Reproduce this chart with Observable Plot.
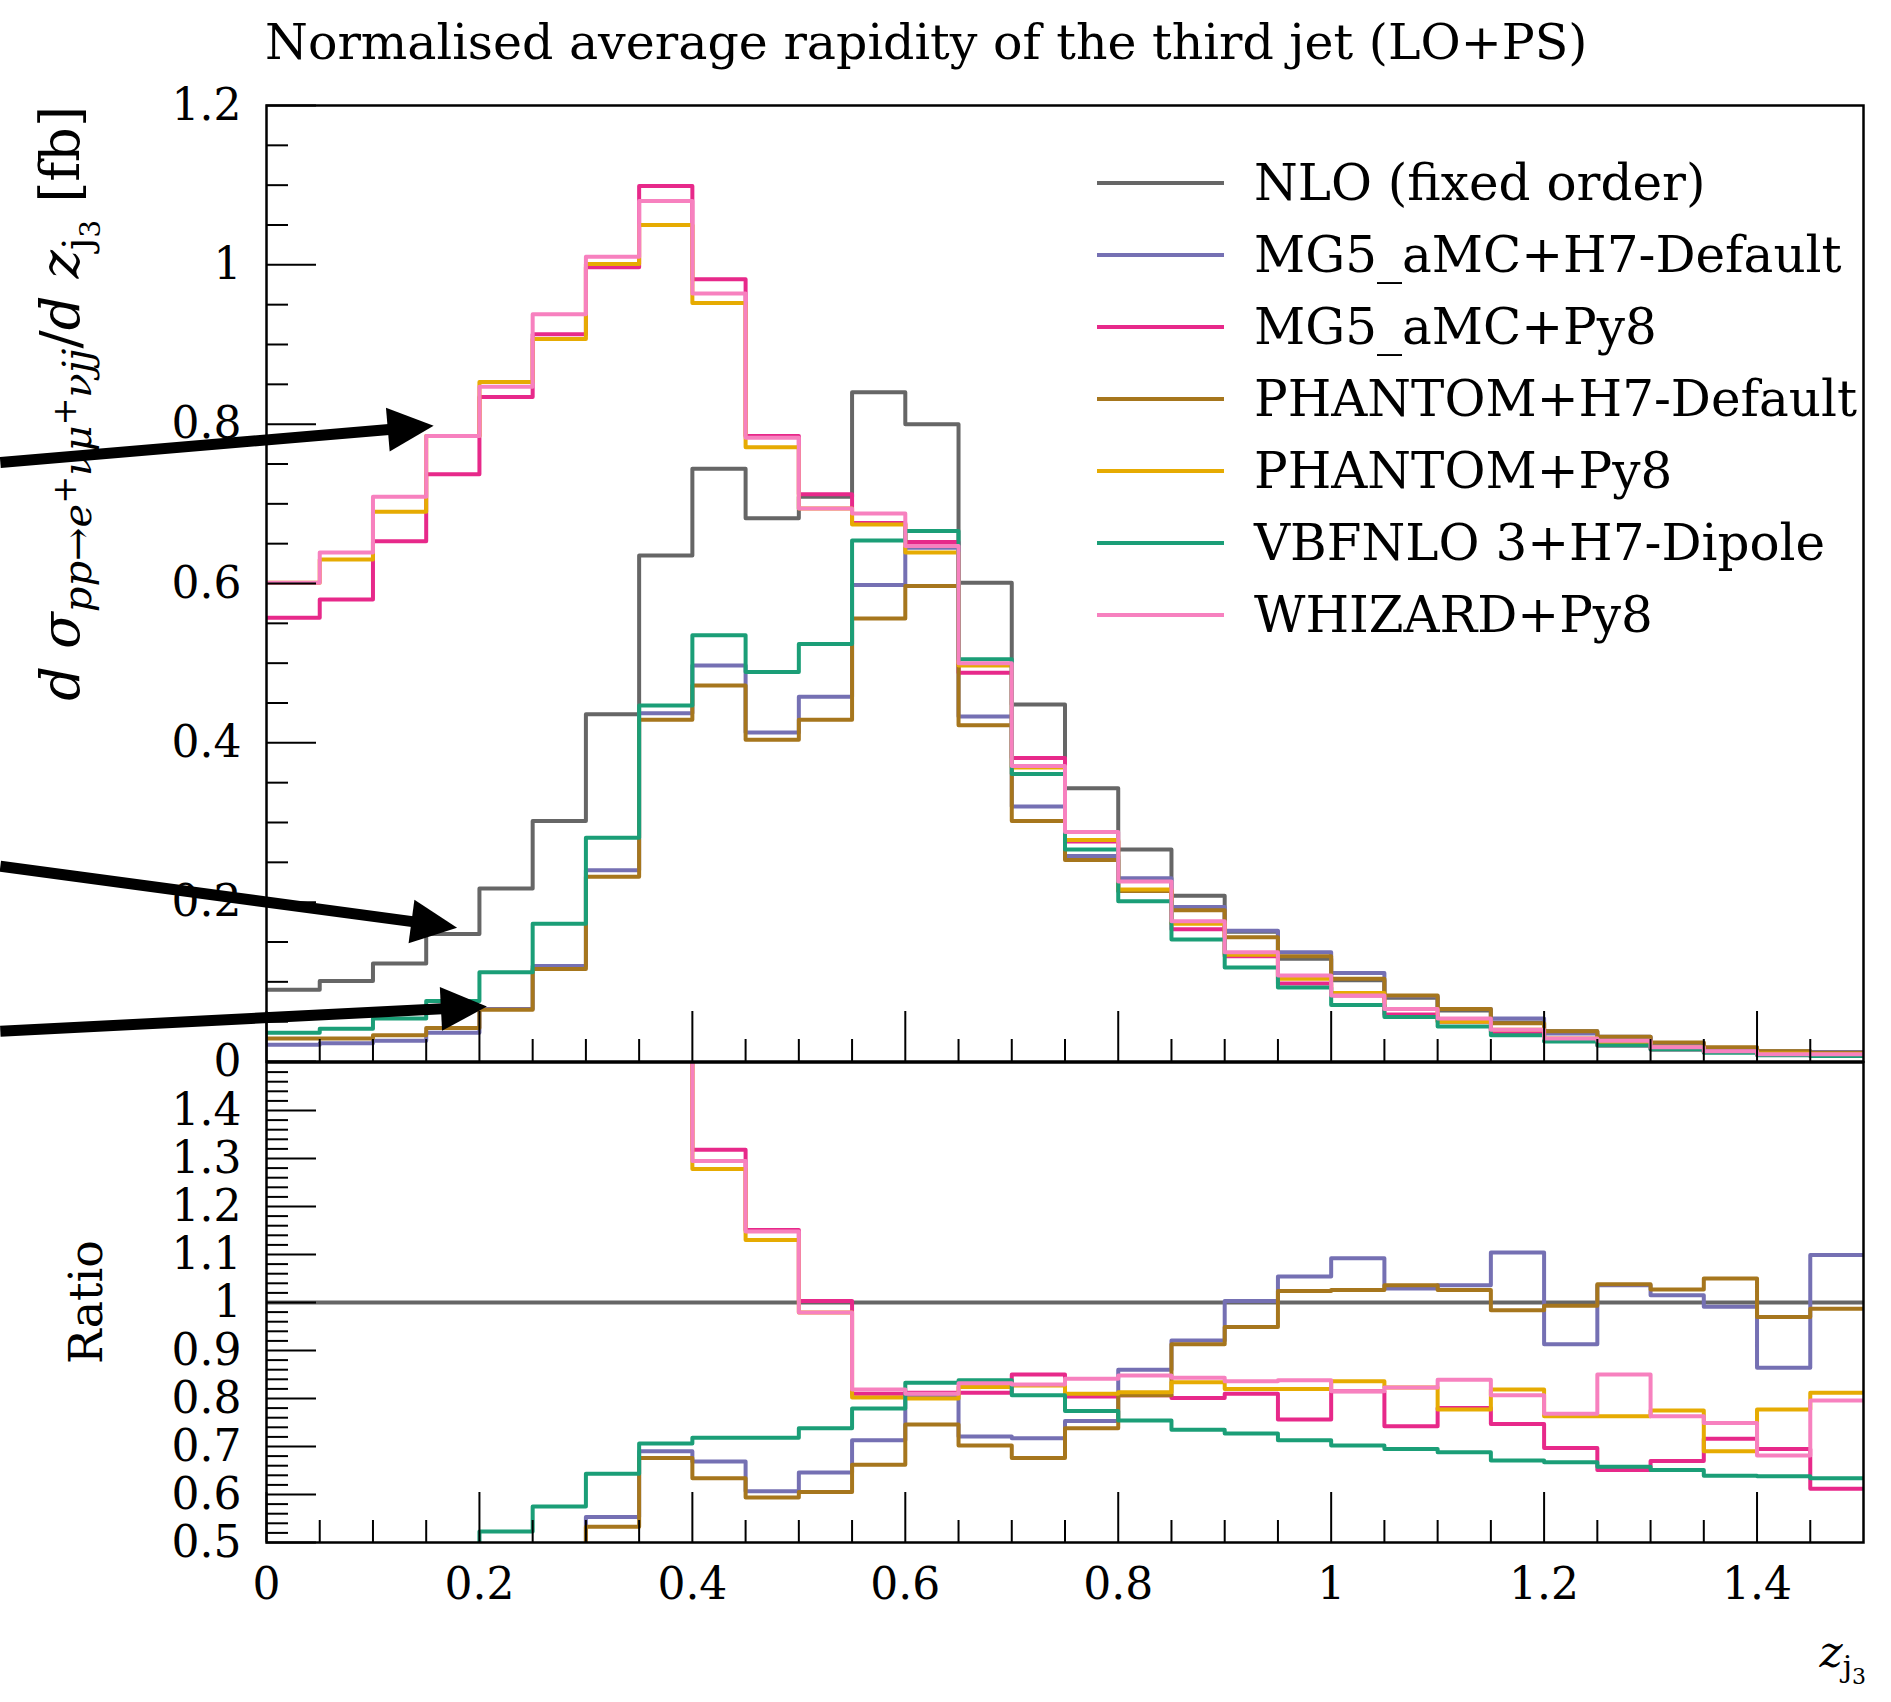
<!DOCTYPE html>
<html><head><meta charset="utf-8">
<script src="https://cdn.jsdelivr.net/npm/d3@7"></script>
<script src="https://cdn.jsdelivr.net/npm/@observablehq/plot@0.6"></script>
<style>
body{margin:0;background:#fff;}
#wrap{position:relative;width:1891px;height:1702px;font-family:"DejaVu Serif",serif;color:#000;overflow:hidden;}
#wrap svg{position:absolute;left:0;top:0;}
.abs{position:absolute;white-space:nowrap;}
</style></head><body><div id="wrap"></div>
<script>
// ---------- data ----------
const binEdges = [0,0.05,0.1,0.15,0.2,0.25,0.3,0.35,0.4,0.45,0.5,0.55,0.6,0.65,0.7,0.75,0.8,0.85,0.9,0.95,1.0,1.05,1.1,1.15,1.2,1.25,1.3,1.35,1.4,1.45,1.5];
const seriesNames = ["NLO (fixed order)","MG5_aMC+H7-Default","MG5_aMC+Py8","PHANTOM+H7-Default","PHANTOM+Py8","VBFNLO 3+H7-Dipole","WHIZARD+Py8"];
const seriesColors = ["#666666","#7570b3","#e7298a","#a6761d","#e6ab02","#1b9e77","#f781bf"];

const nloValues      = [0.090,0.101,0.123,0.160,0.217,0.302,0.436,0.635,0.744,0.682,0.709,0.840,0.800,0.601,0.448,0.343,0.266,0.208,0.163,0.129,0.102,0.080,0.064,0.049,0.038,0.030,0.023,0.017,0.013,0.011];
const mgH7Values     = [0.021,0.023,0.026,0.036,0.066,0.120,0.240,0.437,0.497,0.413,0.458,0.598,0.645,0.433,0.320,0.258,0.230,0.194,0.164,0.137,0.111,0.082,0.066,0.054,0.035,0.031,0.023,0.017,0.011,0.012];
const mgPy8Values    = [0.557,0.580,0.653,0.737,0.834,0.913,0.997,1.099,0.982,0.785,0.712,0.676,0.652,0.488,0.381,0.276,0.214,0.166,0.132,0.098,0.083,0.059,0.050,0.037,0.026,0.020,0.015,0.012,0.009,0.007];
const phH7Values     = [0.029,0.029,0.033,0.042,0.065,0.116,0.232,0.429,0.472,0.404,0.429,0.556,0.597,0.422,0.302,0.253,0.214,0.190,0.156,0.132,0.104,0.083,0.066,0.048,0.038,0.031,0.024,0.018,0.013,0.011];
const phPy8Values    = [0.601,0.630,0.690,0.785,0.853,0.907,1.001,1.050,0.952,0.771,0.694,0.674,0.639,0.497,0.369,0.278,0.216,0.173,0.134,0.104,0.086,0.066,0.050,0.040,0.029,0.023,0.018,0.012,0.010,0.009];
const vbfH7Values    = [0.036,0.041,0.054,0.076,0.112,0.173,0.281,0.447,0.535,0.489,0.524,0.654,0.666,0.505,0.361,0.266,0.201,0.153,0.118,0.093,0.071,0.056,0.044,0.033,0.025,0.020,0.015,0.011,0.008,0.007];
const whizPy8Values  = [0.601,0.639,0.709,0.785,0.847,0.938,1.010,1.080,0.964,0.783,0.694,0.688,0.647,0.500,0.371,0.288,0.226,0.176,0.137,0.108,0.083,0.066,0.054,0.040,0.029,0.026,0.018,0.013,0.009,0.009];

const nloRatio     = [1,1,1,1,1,1,1,1,1,1,1,1,1,1,1,1,1,1,1,1,1,1,1,1,1,1,1,1,1,1];
const mgH7Ratio    = [0.23,0.23,0.21,0.23,0.30,0.40,0.553,0.690,0.669,0.607,0.646,0.713,0.806,0.721,0.717,0.753,0.860,0.921,1.003,1.054,1.092,1.029,1.036,1.104,0.913,1.036,1.015,0.991,0.864,1.099];
const mgPy8Ratio   = [6.2,5.7,5.3,4.6,3.8,3.0,2.3,1.73,1.318,1.151,1.003,0.810,0.812,0.812,0.850,0.804,0.807,0.801,0.810,0.756,0.815,0.742,0.780,0.747,0.697,0.651,0.670,0.716,0.695,0.612];
const phH7Ratio    = [0.32,0.29,0.27,0.26,0.30,0.38,0.533,0.676,0.634,0.594,0.605,0.662,0.746,0.702,0.676,0.738,0.807,0.913,0.949,1.024,1.026,1.036,1.026,0.984,0.993,1.038,1.027,1.050,0.970,0.987];
const phPy8Ratio   = [6.7,6.2,5.6,4.9,3.9,3.0,2.3,1.65,1.278,1.130,0.979,0.802,0.800,0.824,0.827,0.810,0.813,0.834,0.820,0.820,0.836,0.823,0.777,0.819,0.763,0.763,0.775,0.690,0.777,0.812];
const vbfH7Ratio   = [0.40,0.41,0.44,0.475,0.523,0.575,0.643,0.706,0.718,0.718,0.738,0.779,0.833,0.838,0.807,0.774,0.754,0.735,0.727,0.713,0.702,0.695,0.688,0.671,0.667,0.658,0.651,0.639,0.638,0.634];
const whizPy8Ratio = [6.7,6.3,5.8,4.9,3.9,3.1,2.3,1.70,1.295,1.148,0.979,0.819,0.810,0.832,0.829,0.841,0.848,0.843,0.836,0.838,0.815,0.823,0.839,0.807,0.768,0.850,0.763,0.749,0.681,0.796];

const xMajorTicks = [0,0.2,0.4,0.6,0.8,1.0,1.2,1.4];
const xMinorTicks = [0.05,0.1,0.15,0.25,0.3,0.35,0.45,0.5,0.55,0.65,0.7,0.75,0.85,0.9,0.95,1.05,1.1,1.15,1.25,1.3,1.35,1.45];
const mainYMajor = [0,0.2,0.4,0.6,0.8,1.0,1.2];
const mainYMinor = [0.05,0.1,0.15,0.25,0.3,0.35,0.45,0.5,0.55,0.65,0.7,0.75,0.85,0.9,0.95,1.05,1.1,1.15];
const ratioYMajor = [0.5,0.6,0.7,0.8,0.9,1.0,1.1,1.2,1.3,1.4];
const ratioYMinor = [0.52,0.54,0.56,0.58,0.62,0.64,0.66,0.68,0.72,0.74,0.76,0.78,0.82,0.84,0.86,0.88,0.92,0.94,0.96,0.98,1.02,1.04,1.06,1.08,1.12,1.14,1.16,1.18,1.22,1.24,1.26,1.28,1.32,1.34,1.36,1.38,1.42,1.44,1.46,1.48];

// annotation arrows (chart units): start and tip
const arrowX1 = [-0.25,-0.25,-0.25];
const arrowY1 = [0.752,0.245,0.038];
const arrowX2 = [0.157,0.179,0.207];
const arrowY2 = [0.798,0.168,0.069];

// ---------- layout ----------
const W = 1891, H = 1702;
const L = 266, R = 1863;
const mainTop = 105, mainBottom = 1061;
const ratioTop = 1062, ratioBottom = 1542;
const plotW = R - L;
const FONT = "DejaVu Serif";
const FS = 44;
const LW = 4;

const mainSeries = [nloValues,mgH7Values,mgPy8Values,phH7Values,phPy8Values,vbfH7Values,whizPy8Values];
const ratioSeries = [nloRatio,mgH7Ratio,mgPy8Ratio,phH7Ratio,phPy8Ratio,vbfH7Ratio,whizPy8Ratio];

function steps(vals) {
  return binEdges.map((e, i) => ({x: e, y: vals[Math.min(i, vals.length - 1)]}));
}
const fmt = d => d3.format("~g")(d);

function tickMarks(plotH, yMajor, yMinor) {
  return [
    Plot.tickY(yMinor, {y: d => d, insetRight: plotW - 22, stroke: "#000", strokeWidth: 2}),
    Plot.tickY(yMajor, {y: d => d, insetRight: plotW - 50, stroke: "#000", strokeWidth: 2}),
    Plot.tickX(xMinorTicks, {x: d => d, insetTop: plotH - 22, stroke: "#000", strokeWidth: 2}),
    Plot.tickX(xMajorTicks, {x: d => d, insetTop: plotH - 50, stroke: "#000", strokeWidth: 2})
  ];
}

// arrow heads
const kx = plotW / 1.5, ky = (mainBottom - mainTop) / 1.2;
function headSymbol(theta) {
  const c = Math.cos(theta), s = Math.sin(theta);
  const len = 46, hw = 22;
  return {draw(ctx) {
    ctx.moveTo(0, 0);
    ctx.lineTo(-len * c - hw * s, -len * s + hw * c);
    ctx.lineTo(-len * c + hw * s, -len * s - hw * c);
    ctx.closePath();
  }};
}
const arrowData = arrowX1.map((x1, i) => ({x1, y1: arrowY1[i], x2: arrowX2[i], y2: arrowY2[i]}));
const arrowHeads = arrowData.map(d => {
  const th = Math.atan2(-(d.y2 - d.y1) * ky, (d.x2 - d.x1) * kx);
  return Plot.dot([d], {x: "x2", y: "y2", symbol: headSymbol(th), r: 10, fill: "#000", stroke: "none"});
});

const wrap = document.getElementById("wrap");

const main = Plot.plot({
  width: W, height: H,
  marginLeft: L, marginRight: W - R, marginTop: mainTop, marginBottom: H - mainBottom,
  x: {domain: [0, 1.5], axis: null},
  y: {domain: [0, 1.2]},
  style: {background: "transparent", fontFamily: FONT, fontSize: FS + "px", overflow: "visible"},
  marks: [
    ...mainSeries.map((v, i) => Plot.line(steps(v), {x: "x", y: "y", curve: "step-after", stroke: seriesColors[i], strokeWidth: LW, clip: true})),
    ...tickMarks(mainBottom - mainTop, mainYMajor, mainYMinor),
    Plot.axisY(mainYMajor, {tickSize: 0, tickPadding: 25, tickFormat: fmt, label: null, fontSize: FS}),
    Plot.frame({stroke: "#000", strokeWidth: 2.5}),
    Plot.arrow(arrowData, {x1: "x1", y1: "y1", x2: "x2", y2: "y2", stroke: "#000", strokeWidth: 11, headLength: 0, insetEnd: 30, bend: 0, strokeLinecap: "butt"}),
    ...arrowHeads
  ]
});
wrap.appendChild(main);

const ratio = Plot.plot({
  width: W, height: H,
  marginLeft: L, marginRight: W - R, marginTop: ratioTop, marginBottom: H - ratioBottom,
  x: {domain: [0, 1.5]},
  y: {domain: [0.5, 1.5]},
  style: {background: "transparent", fontFamily: FONT, fontSize: FS + "px", overflow: "visible"},
  marks: [
    ...ratioSeries.map((v, i) => Plot.line(steps(v), {x: "x", y: "y", curve: "step-after", stroke: seriesColors[i], strokeWidth: LW, clip: true})),
    ...tickMarks(ratioBottom - ratioTop, ratioYMajor, ratioYMinor),
    Plot.axisY(ratioYMajor, {tickSize: 0, tickPadding: 25, tickFormat: fmt, label: null, fontSize: FS}),
    Plot.axisX(xMajorTicks, {tickSize: 0, tickPadding: 25, tickFormat: fmt, label: null, fontSize: FS}),
    Plot.frame({stroke: "#000", strokeWidth: 2.5})
  ]
});
wrap.appendChild(ratio);

// ---------- text: title, axis labels, legend ----------
function addDiv(html, css) {
  const d = document.createElement("div");
  d.className = "abs";
  d.innerHTML = html;
  Object.assign(d.style, css);
  wrap.appendChild(d);
  return d;
}
addDiv("Normalised average rapidity of the third jet (LO+PS)", {left: "265px", top: "18px", fontSize: "49px", lineHeight: "1"});

addDiv("<i>d</i> <i>σ</i><sub style='font-size:40px'><i>pp</i>→<i>e</i><sup>+</sup><i>νμ</i><sup>+</sup><i>νjj</i></sub>/<i>d</i> <i>z</i><sub style='font-size:40px'>j<sub style='font-size:28px'>3</sub></sub> [fb]",
  {left: "0px", top: "0px", fontSize: "54px", lineHeight: "1.2", transformOrigin: "0 0", transform: "translate(68px,106px) rotate(-90deg) translate(-100%,-50%)"});

addDiv("Ratio", {left: "0px", top: "0px", fontSize: "46px", lineHeight: "1", transformOrigin: "0 0", transform: "translate(86px,1302px) rotate(-90deg) translate(-50%,-50%)"});

addDiv("<i>z</i><sub style='font-size:30px'>j<sub style='font-size:22px'>3</sub></sub>", {right: (W - 1866) + "px", top: "1630px", fontSize: FS + "px", lineHeight: "1"});

const legendRows = [183, 255, 327, 399, 471, 543, 615];
seriesNames.forEach((name, i) => {
  addDiv("", {left: "1097px", top: (legendRows[i] - 2) + "px", width: "127px", height: "4px", background: seriesColors[i]});
  addDiv(name, {left: "1254px", top: (legendRows[i] - 29) + "px", fontSize: "50px", lineHeight: "58px"});
});
</script></body></html>
